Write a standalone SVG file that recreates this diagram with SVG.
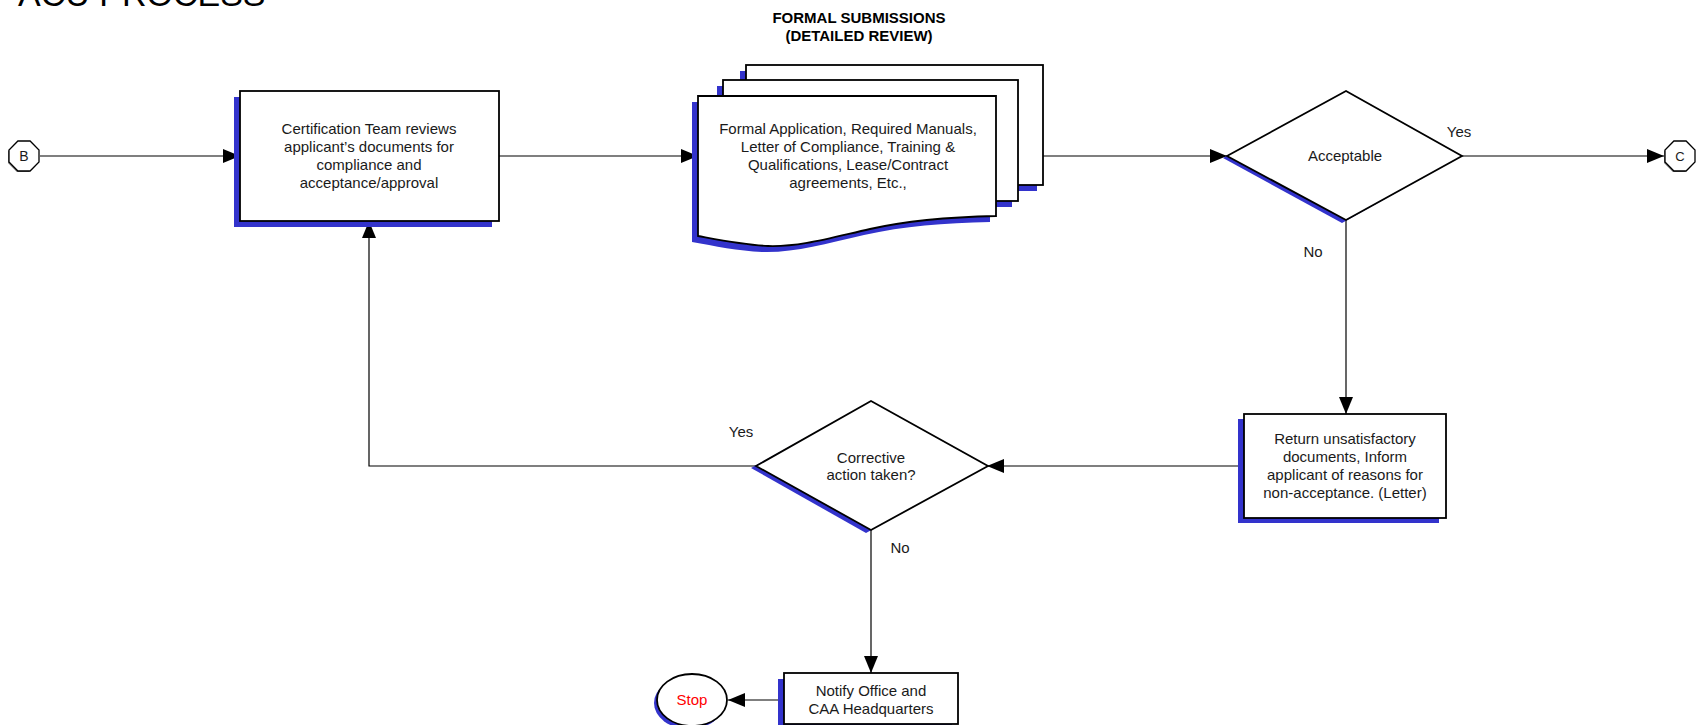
<svg xmlns="http://www.w3.org/2000/svg" width="1701" height="725" viewBox="0 0 1701 725">
<style>
text{font-family:"Liberation Sans",Arial,sans-serif;font-size:15px;fill:#1a1a1a;text-anchor:middle}
.title{font-size:34px;text-anchor:start;fill:#000}
.bold{font-weight:bold;fill:#000}
.shape{fill:#fff;stroke:#000;stroke-width:1.8}
.shadow{fill:#3333cc;stroke:none}
.conn{fill:none;stroke:#000;stroke-width:1.2}
.oct{fill:#fff;stroke:#000;stroke-width:1.3}
.octsh{fill:#777;stroke:none}
</style>
<defs>
<marker id="arr" markerUnits="userSpaceOnUse" markerWidth="18" markerHeight="16" refX="17" refY="7" orient="auto">
<path d="M0,0 L17,7 L0,14 Z" fill="#000"/>
</marker>
</defs>
<rect width="1701" height="725" fill="#fff"/>
<text class="title" x="18" y="6">ACU PROCESS</text>
<g id="heading">
<text class="bold" x="859" y="23">FORMAL SUBMISSIONS</text>
<text class="bold" x="859" y="41">(DETAILED REVIEW)</text>
</g>
<g id="connectors">
<path class="conn" d="M40,156 H240" marker-end="url(#arr)"/>
<path class="conn" d="M499,156 H698" marker-end="url(#arr)"/>
<path class="conn" d="M1043,156 H1227" marker-end="url(#arr)"/>
<path class="conn" d="M1462,156 H1664" marker-end="url(#arr)"/>
<path class="conn" d="M1346,220 V414" marker-end="url(#arr)"/>
<path class="conn" d="M1244,466 H987" stroke="#444" marker-end="url(#arr)"/>
<path class="conn" d="M756,466 H369 V221" marker-end="url(#arr)"/>
<path class="conn" d="M871,530 V673" marker-end="url(#arr)"/>
<path class="conn" d="M784,700 H728" marker-end="url(#arr)"/>
</g>
<g id="B">
<polygon class="octsh" points="17.9,171 9,162 9,150 17.9,141 30.1,141 39,150 39,162 30.1,171" transform="translate(-1,1)"/>
<polygon class="oct" points="17.9,171 9,162 9,150 17.9,141 30.1,141 39,150 39,162 30.1,171"/>
<text x="24" y="161" style="font-size:14px">B</text>
</g>
<g id="review">
<rect class="shadow" x="234" y="97" width="258" height="130"/>
<rect class="shape" x="240" y="91" width="259" height="130"/>
<text x="369" y="134">Certification Team reviews</text>
<text x="369" y="152">applicant’s documents for</text>
<text x="369" y="170">compliance and</text>
<text x="369" y="188">acceptance/approval</text>
</g>
<g id="documents">
<rect class="shadow" x="740" y="71" width="297" height="120"/>
<rect class="shape" x="746" y="65" width="297" height="120"/>
<rect class="shadow" x="717" y="86" width="295" height="121"/>
<rect class="shape" x="723" y="80" width="295" height="121"/>
<path class="shadow" d="M692,102 H990 V222 C944,223 904,226 864,235 C824,244 794,253 762,252 C739,251 714,246 692,242 Z"/>
<path class="shape" d="M698,96 H996 V216 C950,217 910,220 870,229 C830,238 800,247 768,246 C745,245 720,240 698,236 Z"/>
<text x="848" y="134">Formal Application, Required Manuals,</text>
<text x="848" y="152">Letter of Compliance, Training &amp;</text>
<text x="848" y="170">Qualifications, Lease/Contract</text>
<text x="848" y="188">agreements, Etc.,</text>
</g>
<g id="acceptable">
<polygon class="shadow" points="1223,158 1342,94 1458,158 1342,223"/>
<polygon class="shape" points="1227,156 1346,91 1462,156 1346,220"/>
<text x="1345" y="161">Acceptable</text>
<text x="1459" y="137">Yes</text>
<text x="1313" y="257">No</text>
</g>
<g id="C">
<polygon class="octsh" points="1673.9,171 1665,162 1665,150 1673.9,141 1686.1,141 1695,150 1695,162 1686.1,171" transform="translate(-1,1)"/>
<polygon class="oct" points="1673.9,171 1665,162 1665,150 1673.9,141 1686.1,141 1695,150 1695,162 1686.1,171"/>
<text x="1680" y="161" style="font-size:13px">C</text>
</g>
<g id="return">
<rect class="shadow" x="1238" y="419" width="201" height="104"/>
<rect class="shape" x="1244" y="414" width="202" height="104"/>
<text x="1345" y="444">Return unsatisfactory</text>
<text x="1345" y="462">documents, Inform</text>
<text x="1345" y="480">applicant of reasons for</text>
<text x="1345" y="498">non-acceptance. (Letter)</text>
</g>
<g id="corrective">
<polygon class="shadow" points="751,468 866,404 983,468 866,533"/>
<polygon class="shape" points="756,466 871,401 988,466 871,530"/>
<text x="871" y="463">Corrective</text>
<text x="871" y="480">action taken?</text>
<text x="741" y="437">Yes</text>
<text x="900" y="553">No</text>
</g>
<g id="notify">
<rect class="shadow" x="778" y="679" width="174" height="52"/>
<rect class="shape" x="784" y="673" width="174" height="51"/>
<text x="871" y="696">Notify Office and</text>
<text x="871" y="714">CAA Headquarters</text>
</g>
<g id="stop">
<ellipse class="shadow" cx="689" cy="703" rx="35" ry="26"/>
<ellipse class="shape" cx="692" cy="700" rx="35" ry="26"/>
<text x="692" y="705" style="fill:#ff0000">Stop</text>
</g>
</svg>
